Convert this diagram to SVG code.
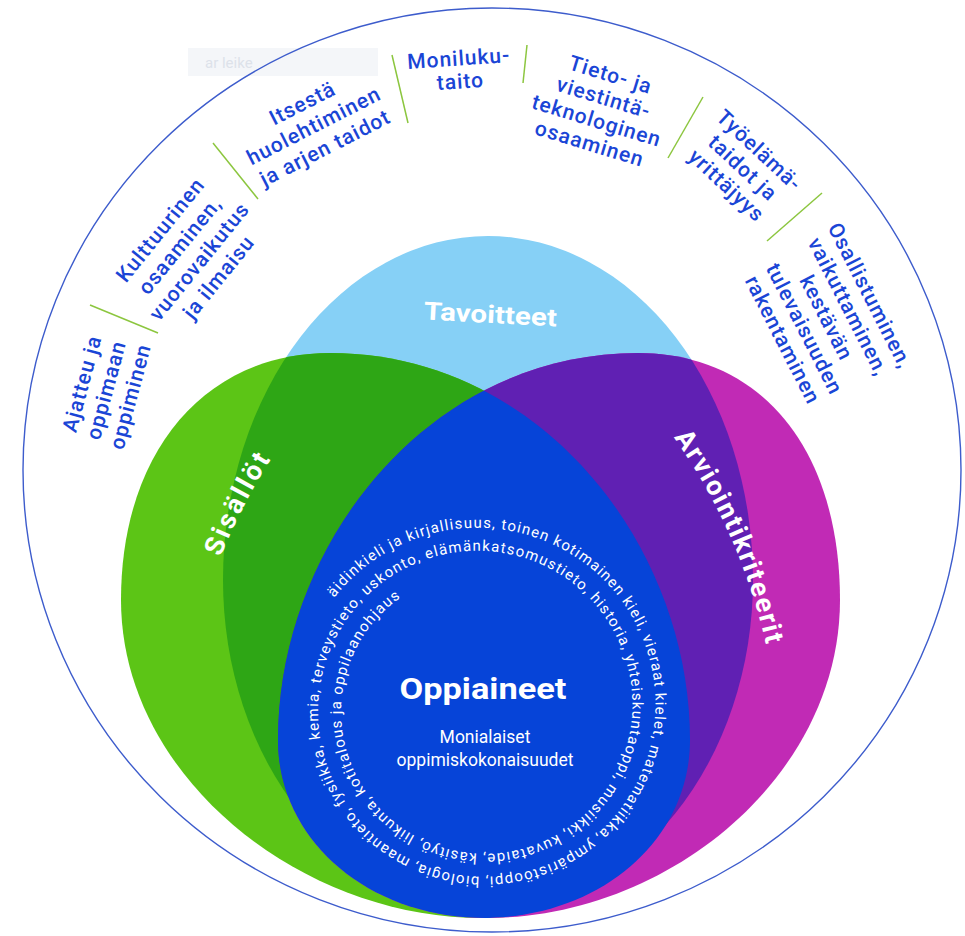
<svg xmlns="http://www.w3.org/2000/svg" width="965" height="936" viewBox="0 0 965 936">
<style>
.ring{font-family:Roboto,"DejaVu Sans",sans-serif;font-weight:500;font-size:21px;fill:#1a45d6;letter-spacing:1px;text-anchor:middle}
.big{font-family:Roboto,"DejaVu Sans",sans-serif;font-weight:700;fill:#ffffff}
.subj{font-family:Roboto,"DejaVu Sans",sans-serif;font-size:15px;fill:#ffffff}
.sub{font-family:Roboto,"DejaVu Sans",sans-serif;font-size:17.5px;fill:#ffffff;text-anchor:middle}
.sep{stroke:#8cc63f;stroke-width:1.5;fill:none}
</style>
<defs>
<path id="greenShape" d="M 121 600 C 121 452 205 353 330 353 C 540 353 690 545 690 740 C 690 840 600 918 482 918 C 300 918 121 776 121 600 Z"/>
<path id="magentaShape" d="M 840 600 C 840 452 763 353 638 353 C 428 353 278 545 278 740 C 278 840 368 918 486 918 C 668 918 840 776 840 600 Z"/>
<path id="lbShape" d="M 223 580 A 265 344 0 0 1 753 580 A 265 330 0 0 1 223 580 Z"/>
<clipPath id="clipLB"><use href="#lbShape"/></clipPath>
<clipPath id="clipMag"><use href="#magentaShape"/></clipPath>
<path id="spiral" d="M 321.65 616 A 182.56 182.56 0 0 1 434.12 533.05 A 179.69 179.69 0 0 1 570.13 553.63 A 176.81 176.81 0 0 1 650.40 662.61 A 173.94 173.94 0 0 1 630.39 794.25 A 171.06 171.06 0 0 1 524.90 871.84 A 168.19 168.19 0 0 1 397.63 852.41 A 165.31 165.31 0 0 1 322.71 750.41 A 162.44 162.44 0 0 1 341.57 627.5 A 159.56 159.56 0 0 1 440.08 555.27 A 156.69 156.69 0 0 1 558.63 573.55 A 153.81 153.81 0 0 1 628.18 668.56 A 150.94 150.94 0 0 1 610.47 782.75 A 148.06 148.06 0 0 1 518.95 849.63 A 145.19 145.19 0 0 1 409.13 832.49 A 142.31 142.31 0 0 1 344.93 744.46 A 139.44 139.44 0 0 1 361.49 639 A 136.56 136.56 0 0 1 446.03 577.48"/>
<path id="arcArv" d="M 611 363 A 577 577 0 0 1 779.2 740.8"/>
<path id="arcSis" d="M 182.2 720.4 A 581 581 0 0 1 379.8 332.5"/>
</defs>
<rect width="965" height="936" fill="#ffffff"/>

<g id="watermark">
<rect x="188" y="48" width="190" height="28" fill="#f4f6f9"/>
<text x="205" y="68" font-family="Roboto,sans-serif" font-size="15" fill="#dde2ea">ar leike</text>
</g>

<g id="outer-circle">
<ellipse cx="492" cy="470" rx="469" ry="462" fill="none" stroke="#3d5ccc" stroke-width="1.4"/>
</g>

<g id="node-tavoitteet-shape"><use href="#lbShape" fill="#86d0f6"/></g>
<g id="node-sisallot-shape"><use href="#greenShape" fill="#5cc516"/></g>
<g id="node-arviointi-shape"><use href="#magentaShape" fill="#c12ab5"/></g>
<g id="overlaps">
<use href="#greenShape" fill="#2ea615" clip-path="url(#clipLB)"/>
<use href="#magentaShape" fill="#6020b3" clip-path="url(#clipLB)"/>
</g>
<g id="node-oppiaineet">
<use href="#greenShape" fill="#0644d8" clip-path="url(#clipMag)"/>
<text class="subj"><textPath href="#spiral" startOffset="22" textLength="2058" lengthAdjust="spacing">äidinkieli ja kirjallisuus, toinen kotimainen kieli, vieraat kielet, matematiikka, ympäristöoppi, biologia, maantieto, fysiikka, kemia, terveystieto, uskonto, elämänkatsomustieto, historia, yhteiskuntaoppi, musiikki, kuvataide, käsityö, liikunta, kotitalous ja oppilaanohjaus</textPath></text>
<text class="big" x="483" y="699" font-size="29" text-anchor="middle" textLength="167" lengthAdjust="spacingAndGlyphs">Oppiaineet</text>
<text class="sub" x="485" y="743">Monialaiset</text>
<text class="sub" x="485" y="766">oppimiskokonaisuudet</text>
</g>

<g id="label-tavoitteet">
<text class="big" font-size="25" text-anchor="middle" transform="translate(490,323) rotate(3)" textLength="133" lengthAdjust="spacingAndGlyphs">Tavoitteet</text>
</g>
<g id="label-sisallot">
<text class="big" font-size="27"><textPath href="#arcSis" startOffset="50%" text-anchor="middle" textLength="110" lengthAdjust="spacing">Sisällöt</textPath></text>
</g>
<g id="label-arviointikriteerit">
<text class="big" font-size="27"><textPath href="#arcArv" startOffset="50%" text-anchor="middle" textLength="228" lengthAdjust="spacing">Arviointikriteerit</textPath></text>
</g>

<g id="connectors">
<line class="sep" x1="90" y1="305" x2="158" y2="333"/>
<line class="sep" x1="213" y1="143" x2="258" y2="199"/>
<line class="sep" x1="392" y1="55" x2="408" y2="123"/>
<line class="sep" x1="527" y1="45" x2="523" y2="83"/>
<line class="sep" x1="703" y1="97" x2="668" y2="158"/>
<line class="sep" x1="822" y1="193" x2="767" y2="241"/>
</g>

<g id="t-ajattelu">
<text class="ring" transform="translate(113,392) rotate(-75)"><tspan x="0" y="-25">Ajatteu ja</tspan><tspan x="0" y="0">oppimaan</tspan><tspan x="0" y="25">oppiminen</tspan></text>
</g>
<g id="t-kulttuurinen">
<text class="ring" transform="translate(195,258) rotate(-51)"><tspan x="0" y="-37.5">Kulttuurinen</tspan><tspan x="0" y="-12.5">osaaminen,</tspan><tspan x="0" y="12.5">vuorovaikutus</tspan><tspan x="0" y="37.5">ja ilmaisu</tspan></text>
</g>
<g id="t-itsesta">
<text class="ring" transform="translate(317,132) rotate(-27)"><tspan x="0" y="-25">Itsestä</tspan><tspan x="0" y="0">huolehtiminen</tspan><tspan x="0" y="25">ja arjen taidot</tspan></text>
</g>
<g id="t-monilukutaito">
<text class="ring" transform="translate(460,77) rotate(-4)"><tspan x="0" y="-11.5">Moniluku-</tspan><tspan x="0" y="11.5">taito</tspan></text>
</g>
<g id="t-tieto">
<text class="ring" transform="translate(598,116) rotate(17)"><tspan x="0" y="-36">Tieto- ja</tspan><tspan x="0" y="-12">viestintä-</tspan><tspan x="0" y="12">teknologinen</tspan><tspan x="0" y="36">osaaminen</tspan></text>
</g>
<g id="t-tyoelama">
<text class="ring" transform="translate(738,173) rotate(43)"><tspan x="0" y="-24">Työelämä-</tspan><tspan x="0" y="0">taidot ja</tspan><tspan x="0" y="24">yrittäjyys</tspan></text>
</g>
<g id="t-osallistuminen">
<text class="ring" transform="translate(820,321) rotate(63)"><tspan x="0" y="-49">Osallistuminen,</tspan><tspan x="0" y="-24.5">vaikuttaminen,</tspan><tspan x="0" y="0">kestävän</tspan><tspan x="0" y="24.5">tulevaisuuden</tspan><tspan x="0" y="49">rakentaminen</tspan></text>
</g>
</svg>
